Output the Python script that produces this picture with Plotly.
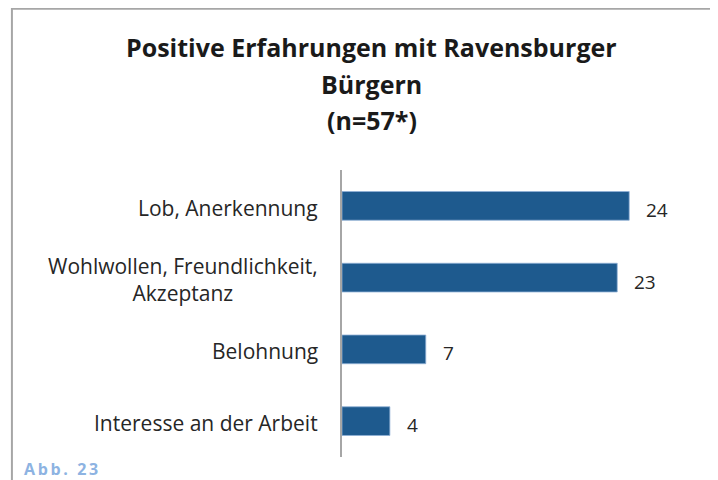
import plotly.graph_objects as go

categories = ["Lob, Anerkennung", "Wohlwollen, Freundlichkeit,<br>Akzeptanz", "Belohnung", "Interesse an der Arbeit"]
values = [24, 23, 7, 4]
title_lines = ["Positive Erfahrungen mit Ravensburger", "Bürgern", "(n=57*)"]
caption = "Abb. 23"

# The page body has an 8px margin, so the figure starts 8px into the window;
# every position below is given in window pixels.
OFF = 8
W, H = 718, 480
PL, PR, PT, PB = 341.5, 701.5, 170, 456.7      # plot area in window pixels
L, R, T, B = PL - OFF, (W + OFF) - PR, PT - OFF, (H + OFF) - PB
pw = PR - PL
ph = PB - PT


def px_x(x):
    return (x - PL) / pw


def px_y(y):
    return (PB - y) / ph


FONT = "Open Sans"
fig = go.Figure(go.Bar(
    y=categories, x=values, orientation="h",
    marker=dict(color="#1e5a8e", line=dict(color="#8fb0d6", width=0.8)),
    hoverinfo="skip",
))

ann = []
for c, v in zip(categories, values):
    ann.append(dict(x=v, y=c, xref="x", yref="y", text=str(v), showarrow=False,
                    xanchor="left", xshift=15, yshift=-4,
                    font=dict(family=FONT, size=19, color="#262626")))
    ann.append(dict(x=0, y=c, xref="x", yref="y", text=c, showarrow=False,
                    xanchor="right", xshift=-22, yshift=-2, align="center",
                    font=dict(family=FONT, size=21, color="#262626")))

for line, yy in zip(title_lines, [47.5, 84, 120.5]):
    ann.append(dict(x=px_x(371.5), y=px_y(yy), xref="paper", yref="paper", text=f"<b>{line}</b>",
                    showarrow=False, xanchor="center", yanchor="middle",
                    font=dict(family=FONT, size=25, color="#1a1a1a")))

spaced_caption = "\u2009".join(caption)
ann.append(dict(x=px_x(21), y=px_y(469), xref="paper", yref="paper", text=f"<b>{spaced_caption}</b>",
                showarrow=False, xanchor="left", yanchor="middle",
                font=dict(family=FONT, size=16, color="#8db3e2")))

shapes = [
    dict(type="line", xref="paper", yref="paper", x0=px_x(10), x1=px_x(730), y0=px_y(9), y1=px_y(9),
         line=dict(color="#a6a6a6", width=2)),
    dict(type="line", xref="paper", yref="paper", x0=px_x(10.5), x1=px_x(10.5), y0=px_y(8), y1=px_y(492),
         line=dict(color="#a6a6a6", width=2)),
]

fig.update_layout(
    width=W, height=H,
    margin=dict(l=L, r=R, t=T, b=B, pad=0),
    paper_bgcolor="white", plot_bgcolor="white",
    bargap=0.6,
    showlegend=False,
    xaxis=dict(range=[0, 30], visible=False, fixedrange=True),
    yaxis=dict(autorange="reversed", showticklabels=False, ticks="", showgrid=False,
               showline=True, linecolor="#a6a6a6", linewidth=1.5, zeroline=False),
    annotations=ann,
    shapes=shapes,
)

fig.write_html("out.html")
